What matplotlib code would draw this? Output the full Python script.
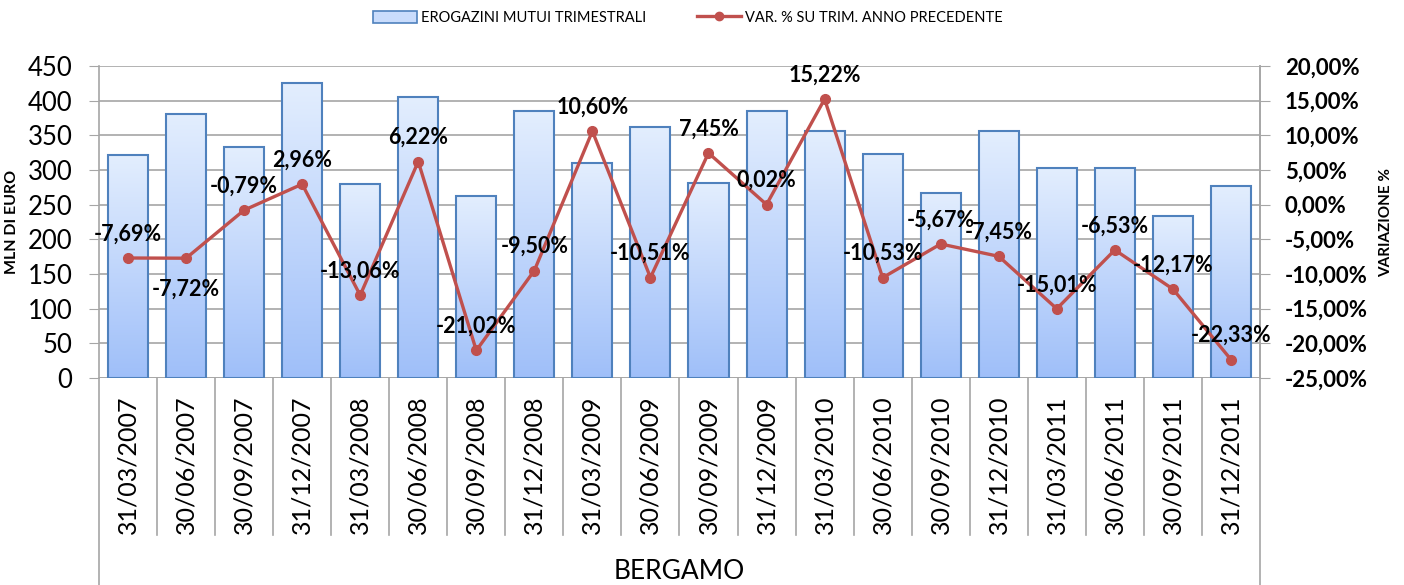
import numpy as np
import matplotlib
matplotlib.use('Agg')
import matplotlib.pyplot as plt
import matplotlib.transforms as mtransforms
from matplotlib.colors import LinearSegmentedColormap
from matplotlib.patches import Patch
from matplotlib.lines import Line2D

plt.rcParams['font.family'] = ['Lato', 'DejaVu Sans']

dates = ['31/03/2007', '30/06/2007', '30/09/2007', '31/12/2007',
         '31/03/2008', '30/06/2008', '30/09/2008', '31/12/2008',
         '31/03/2009', '30/06/2009', '30/09/2009', '31/12/2009',
         '31/03/2010', '30/06/2010', '30/09/2010', '31/12/2010',
         '31/03/2011', '30/06/2011', '30/09/2011', '31/12/2011']
erogazioni = [322, 381, 333, 425, 280, 405, 263, 385, 310, 362,
              281, 385, 356, 323, 267, 356, 303, 303, 234, 277]
variazione = [-7.69, -7.72, -0.79, 2.96, -13.06, 6.22, -21.02, -9.50, 10.60, -10.51,
              7.45, 0.02, 15.22, -10.53, -5.67, -7.45, -15.01, -6.53, -12.17, -22.33]
group = 'BERGAMO'

grey = '#a6a6a6'
red = '#c0504d'
edge = '#4f81bd'
cmap = LinearSegmentedColormap.from_list('bar', ['#9fbff9', '#e3eefe'])

fig = plt.figure(figsize=(14.04, 5.85), dpi=100)
ax = fig.add_axes([0.0705, 0.3538, 0.8269, 0.5334])
x = np.arange(len(dates))
w = 0.69

bars = ax.bar(x, erogazioni, width=w, facecolor='none', edgecolor=edge, linewidth=1.5, zorder=3)
grad = np.linspace(0, 1, 256).reshape(-1, 1)
for b in bars:
    bx, by = b.get_x(), b.get_y()
    im = ax.imshow(grad, extent=[bx, bx + b.get_width(), by, by + b.get_height()],
                   origin='lower', aspect='auto', cmap=cmap, zorder=2)
    im.set_clip_path(b)

ax.set_xlim(-0.5, len(dates) - 0.5)
ax.set_ylim(0, 450)
ax.set_yticks(np.arange(0, 451, 50))
ax.yaxis.grid(True, color=grey, linewidth=1.2, zorder=0)
ax.set_axisbelow(True)
ax.set_xticks([])
ax.tick_params(axis='y', length=7, color=grey, labelsize=18.5, pad=12)
for s in ['top', 'bottom']:
    ax.spines[s].set_visible(False)
for s in ['left', 'right']:
    ax.spines[s].set_color(grey)
    ax.spines[s].set_linewidth(1.2)
ax.axhline(0, color=grey, linewidth=1.2, zorder=1)
ax.set_ylabel('MLN DI EURO', fontsize=11.5, fontweight='bold', labelpad=6)

ax2 = ax.twinx()
ax2.plot(x, variazione, color=red, linewidth=2.4, marker='o', markersize=7, zorder=5)
ax2.set_ylim(-25, 20)
ax2.set_yticks(np.arange(-25, 21, 5))
ax2.set_yticklabels([('%.2f%%' % v).replace('.', ',') for v in np.arange(-25, 21, 5)],
                    fontweight='bold')
ax2.tick_params(axis='y', length=7, color=grey, labelsize=16, pad=11)
for s in ['top', 'bottom', 'left']:
    ax2.spines[s].set_visible(False)
ax2.spines['right'].set_color(grey)
ax2.spines['right'].set_linewidth(1.2)
ax2.set_ylabel('VARIAZIONE %', fontsize=11, fontweight='bold', labelpad=8)

for i, v in enumerate(variazione):
    txt = ('%.2f%%' % v).replace('.', ',')
    dy = -31 if i == 1 else 24
    ax2.annotate(txt, (i, v), xytext=(0, dy), textcoords='offset pixels',
                 ha='center', va='center', fontsize=15.5, fontweight='bold', zorder=6)

# multi-level category axis below the plot
trans = mtransforms.blended_transform_factory(ax.transData, ax.transAxes)
for i in range(len(dates) + 1):
    xb = i - 0.5
    y_end = -0.663 if i in (0, len(dates)) else -0.503
    ax.add_line(Line2D([xb, xb], [0, y_end], transform=trans, color=grey,
                       linewidth=1.2, clip_on=False))
for i, d in enumerate(dates):
    ax.text(i, -0.279, d, transform=trans, rotation=90, ha='center', va='center',
            fontsize=18)
ax.text((len(dates) - 1) / 2, -0.619, group, transform=trans, ha='center', va='center',
        fontsize=19)

handles = [Patch(facecolor='#c9dcfc', edgecolor=edge, linewidth=1.2),
           Line2D([0], [0], color=red, linewidth=2.4, marker='o', markersize=6)]
fig.legend(handles, ['EROGAZINI MUTUI TRIMESTRALI', 'VAR. % SU TRIM. ANNO PRECEDENTE'],
           loc='center', bbox_to_anchor=(0.49, 0.97), ncol=2, frameon=False,
           fontsize=10.5, handlelength=3, handleheight=0.9, columnspacing=3.5,
           handletextpad=0.3)

fig.savefig('out.png', dpi=100)
